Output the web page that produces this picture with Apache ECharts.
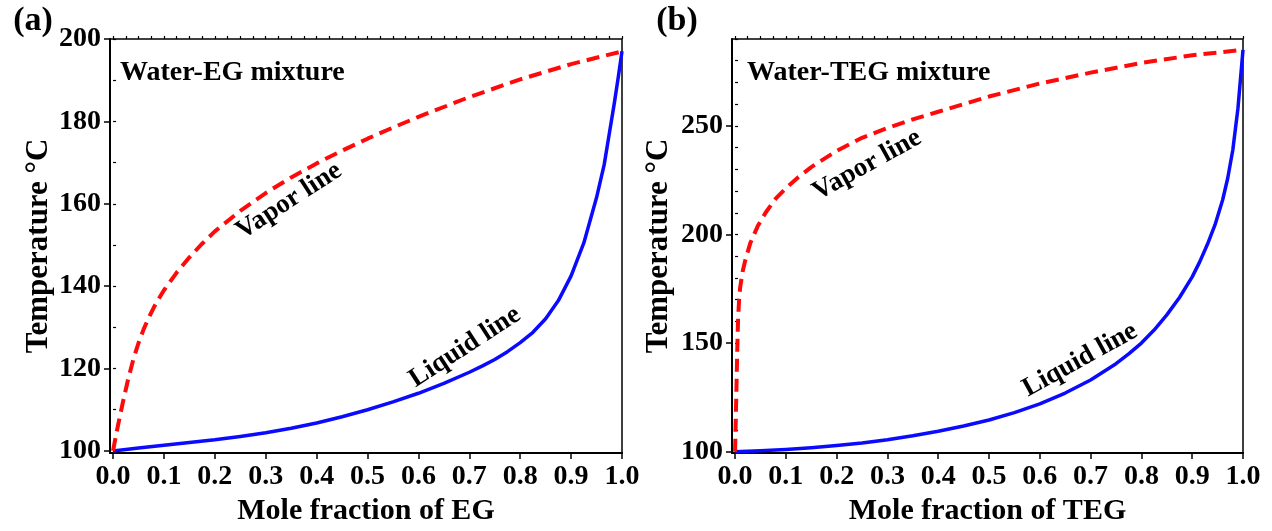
<!DOCTYPE html>
<html>
<head>
<meta charset="utf-8">
<script src="https://cdn.jsdelivr.net/npm/echarts@6/dist/echarts.min.js"></script>
<style>
  html, body { margin: 0; padding: 0; background: #fff; }
  #chart { width: 1272px; height: 531px; }
</style>
</head>
<body>
<div id="chart"></div>
<script>
// ---- Water–EG mixture: liquid (bubble) and vapor (dew) lines, °C vs mole fraction EG
const egLiquidX = [0, 0.05, 0.1, 0.15, 0.2, 0.25, 0.3, 0.35, 0.4, 0.45, 0.5, 0.55, 0.6, 0.65, 0.7, 0.725, 0.75, 0.775, 0.8, 0.825, 0.85, 0.875, 0.9, 0.925, 0.95, 0.965, 0.975, 0.985, 0.993, 1.0];
const egLiquidT = [100, 100.7, 101.4, 102.05, 102.7, 103.5, 104.4, 105.5, 106.8, 108.3, 110.0, 111.9, 114.0, 116.4, 119.1, 120.6, 122.2, 124.1, 126.3, 128.8, 132.1, 136.5, 142.5, 150.5, 161.5, 169.5, 177.0, 184.5, 191.0, 197.0];
const egVaporX  = [0, 0.005, 0.01, 0.02, 0.03, 0.04, 0.05, 0.06, 0.07, 0.08, 0.09, 0.1, 0.125, 0.15, 0.175, 0.2, 0.25, 0.3, 0.35, 0.4, 0.45, 0.5, 0.55, 0.6, 0.7, 0.8, 0.9, 1.0];
const egVaporT  = [100, 103.3, 106.4, 112.2, 117.6, 122.3, 126.2, 129.5, 132.3, 134.8, 137.0, 139.0, 143.3, 147.0, 150.3, 153.3, 158.3, 162.6, 166.4, 169.8, 172.9, 175.8, 178.5, 181.1, 185.9, 190.2, 193.9, 197.0];

// ---- Water–TEG mixture
const tegLiquidX = [0, 0.05, 0.1, 0.15, 0.2, 0.25, 0.3, 0.35, 0.4, 0.45, 0.5, 0.55, 0.6, 0.65, 0.7, 0.75, 0.775, 0.8, 0.825, 0.85, 0.875, 0.9, 0.915, 0.93, 0.945, 0.96, 0.97, 0.98, 0.99, 1.0];
const tegLiquidT = [100, 100.4, 101.0, 101.8, 102.8, 104.0, 105.5, 107.3, 109.4, 111.8, 114.6, 118.0, 122.0, 127.0, 133.0, 140.5, 145.0, 150.0, 156.0, 163.0, 171.0, 180.5, 187.5, 195.5, 204.5, 216.0, 226.0, 239.0, 258.0, 285.0];
const tegVaporX  = [0, 0.001, 0.002, 0.003, 0.004, 0.005, 0.006, 0.008, 0.01, 0.015, 0.02, 0.03, 0.045, 0.06, 0.08, 0.1, 0.125, 0.15, 0.2, 0.25, 0.3, 0.35, 0.4, 0.45, 0.5, 0.6, 0.7, 0.8, 0.9, 1.0];
const tegVaporT  = [100, 110, 121, 132, 143, 153, 161, 170, 175.5, 183, 188, 196, 204, 210, 216.5, 221.3, 226.5, 231, 238.5, 244.5, 249, 253, 256.5, 260, 263.5, 269.5, 274.5, 279, 282.5, 285];

// ---- Tick values
const xMajorTicks = [0, 0.1, 0.2, 0.3, 0.4, 0.5, 0.6, 0.7, 0.8, 0.9, 1.0];
const egTempTicks = [100, 120, 140, 160, 180, 200];
const tegTempTicks = [100, 150, 200, 250];

const FONT = "'Liberation Serif', 'Times New Roman', 'DejaVu Serif', serif";
const BLACK = '#000';

// Minor ticks: 3 between x majors, 1 between EG majors, every 10 °C for TEG
const range = (a, b, step) => {
  const out = [];
  for (let i = 0; a + i * step <= b + 1e-9; i++) out.push(+(a + i * step).toFixed(4));
  return out;
};
const xMinorTicks = range(0, 1, 0.025);
const egMinorTicks = range(100, 200, 10);
const tegMinorTicks = range(100, 290, 10);

const pairs = (xs, ys) => xs.map((x, i) => [x, ys[i]]);

const grids = [
  { left: 110, top: 39, width: 512, height: 414 },
  { left: 732, top: 39, width: 511, height: 414 }
];

const textStyle = (size) => ({ fontFamily: FONT, fontWeight: 'bold', fontSize: size, color: BLACK });

function mainX(gridIndex, name) {
  return {
    gridIndex, type: 'value', min: -0.006, max: 1.0,
    axisLine: { show: true, onZero: false, lineStyle: { color: BLACK, width: 2 } },
    axisTick: { show: true, inside: false, length: 6, customValues: xMajorTicks, lineStyle: { color: BLACK, width: 1.5 } },
    axisLabel: Object.assign({ customValues: xMajorTicks, margin: 10, formatter: v => v.toFixed(1) }, textStyle(28)),
    splitLine: { show: false },
    name, nameLocation: 'middle', nameGap: 41,
    nameTextStyle: textStyle(30)
  };
}
function minorX(gridIndex) {
  return {
    gridIndex, type: 'value', min: -0.006, max: 1.0,
    axisLine: { show: false },
    axisTick: { show: true, inside: false, length: 3, customValues: xMinorTicks, lineStyle: { color: BLACK, width: 1.2 } },
    axisLabel: { show: false },
    splitLine: { show: false }
  };
}
function mainY(gridIndex, min, max, ticks, gap) {
  return {
    gridIndex, type: 'value', min, max,
    axisLine: { show: true, onZero: false, lineStyle: { color: BLACK, width: 2 } },
    axisTick: { show: true, inside: false, length: 6, customValues: ticks, lineStyle: { color: BLACK, width: 1.5 } },
    axisLabel: Object.assign({ customValues: ticks, margin: 9 }, textStyle(28)),
    splitLine: { show: false },
    name: 'Temperature °C', nameLocation: 'middle', nameGap: gap, nameRotate: 90,
    nameTextStyle: textStyle(31)
  };
}
function minorY(gridIndex, min, max, ticks) {
  return {
    gridIndex, type: 'value', min, max,
    axisLine: { show: false },
    axisTick: { show: true, inside: false, length: 3, customValues: ticks, lineStyle: { color: BLACK, width: 1.2 } },
    axisLabel: { show: false },
    splitLine: { show: false }
  };
}

const vaporStyle = { color: '#ff0a0a', width: 4, type: [13, 7], cap: 'butt', join: 'round' };
const liquidStyle = { color: '#0a0aff', width: 3.5, join: 'round' };

function curve(xi, yi, data, style) {
  return {
    type: 'line', xAxisIndex: xi, yAxisIndex: yi, data,
    showSymbol: false, symbol: 'none', smooth: false,
    lineStyle: style, silent: true, animation: false
  };
}

const chart = echarts.init(document.getElementById('chart'), null, { renderer: 'canvas' });

chart.setOption({
  backgroundColor: '#fff',
  animation: false,
  grid: grids.map(g => Object.assign({ show: true, borderColor: BLACK, borderWidth: 1.5, backgroundColor: 'transparent' }, g)),
  xAxis: [mainX(0, 'Mole fraction of EG'), minorX(0), mainX(1, 'Mole fraction of TEG'), minorX(1)],
  yAxis: [
    mainY(0, 99.5, 200, egTempTicks, 56), minorY(0, 99.5, 200, egMinorTicks),
    mainY(1, 99.4, 290, tegTempTicks, 58), minorY(1, 99.4, 290, tegMinorTicks)
  ],
  series: [
    curve(0, 0, pairs(egLiquidX, egLiquidT), liquidStyle),
    curve(0, 0, pairs(egVaporX, egVaporT), vaporStyle),
    curve(2, 2, pairs(tegLiquidX, tegLiquidT), liquidStyle),
    curve(2, 2, pairs(tegVaporX, tegVaporT), vaporStyle)
  ],
  graphic: [
    { type: 'text', x: 33, y: 21, style: Object.assign({ text: '(a)', align: 'center', verticalAlign: 'middle' }, textStyle(34)) },
    { type: 'text', x: 677, y: 21, style: Object.assign({ text: '(b)', align: 'center', verticalAlign: 'middle' }, textStyle(34)) },
    { type: 'text', x: 120, y: 73, style: Object.assign({ text: 'Water-EG mixture', align: 'left', verticalAlign: 'middle' }, textStyle(28)) },
    { type: 'text', x: 747, y: 73, style: Object.assign({ text: 'Water-TEG mixture', align: 'left', verticalAlign: 'middle' }, textStyle(28)) },
    { type: 'text', x: 289, y: 201, rotation: 33 * Math.PI / 180, style: Object.assign({ text: 'Vapor line', align: 'center', verticalAlign: 'middle' }, textStyle(27)) },
    { type: 'text', x: 465, y: 347, rotation: 33 * Math.PI / 180, style: Object.assign({ text: 'Liquid line', align: 'center', verticalAlign: 'middle' }, textStyle(27)) },
    { type: 'text', x: 867, y: 165, rotation: 29 * Math.PI / 180, style: Object.assign({ text: 'Vapor line', align: 'center', verticalAlign: 'middle' }, textStyle(27)) },
    { type: 'text', x: 1080, y: 360, rotation: 29 * Math.PI / 180, style: Object.assign({ text: 'Liquid line', align: 'center', verticalAlign: 'middle' }, textStyle(27)) }
  ]
});
</script>
</body>
</html>
